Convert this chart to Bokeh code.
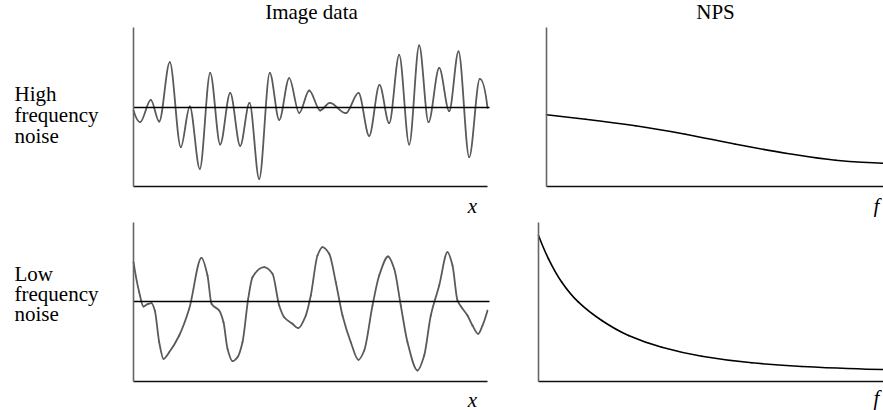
import numpy as np
from bokeh.plotting import figure
from bokeh.layouts import column, row
from bokeh.models import Range1d, FixedTicker, LinearAxis, ColumnDataSource
from bokeh.core.properties import value
from bokeh.embed import file_html
from bokeh.resources import INLINE

# ---------------- data ----------------
# High frequency noise: sample position and amplitude at the turning points
hf_x = [0, 6.7, 17.3, 25.7, 36.3, 47.3, 56.3, 66.3, 76.7, 86.7, 96.7, 106.7, 116,
        125.7, 136.3, 145.7, 155.7, 165.7, 175.7, 186.7, 196.3, 212.3, 225, 235.7,
        246, 255.7, 265.7, 275.7, 285.7, 295, 305.7, 315.7, 325, 335.7, 346.3, 354]
hf_y = [-3.3, -15, 7.3, -14.3, 45, -40, 0.7, -61.7, 34.3, -37.3, 14.3, -38.7, 4.3,
        -71.7, 34.3, -12.7, 29, -5.7, 16.7, -3.3, 4.3, -6, 14.3, -28.7,
        22.3, -16, 52.3, -37.3, 61.7, -15, 39.3, -4, 55.7, -50, 28.3, -0.7]

# Low frequency noise
lf_x = [0, 5.7, 10, 14, 18, 21.3, 25.7, 30, 35.7, 45.7, 55.7, 68, 74, 78, 85.7, 90,
        94, 99, 104, 109, 114.7, 119, 130.7, 139, 145.7, 150.7, 159, 164.7, 172.3,
        177.3, 184, 189, 195.7, 202.3, 209, 217.3, 225, 230.7, 239, 245.7, 254.7,
        260.7, 267.3, 274, 284, 290.7, 297.3, 305.7, 314, 319, 324, 327.3, 334, 339,
        344.7, 349, 354]
lf_y = [39.3, 9.3, -5, -2.7, -1.7, -9, -40.7, -57.3, -50.7, -34, -7.3, 43.7, 26, -2.3,
        -9, -20.7, -47.3, -59.7, -55.7, -40.7, 2.7, 24.3, 34.3, 27.7, -4, -15.7, -22.3,
        -26.7, -14, 6, 46, 54.3, 47.7, 19.3, -14, -40.7, -58.3, -49, -4, 26, 45, 32.7,
        -4, -40.7, -69, -54, -14, 16, 49.3, 36, 1, -4.7, -14, -24, -32.3, -24, -9]

# NPS curves: frequency and power
nps_hf_f = [0, 39, 89, 139, 189, 239, 289, 337]
nps_hf_p = [71.7, 67.3, 60.7, 52.3, 42.3, 33.3, 26.3, 23.3]
nps_lf_f = [0, 10, 23.3, 40, 63.3, 90, 123.3, 163.3, 213.3, 263.3, 345]
nps_lf_p = [146, 122.7, 99.3, 79.3, 61, 46, 34.3, 25.3, 18.7, 15, 12]

col_titles = ["Image data", "NPS"]
row_labels = [["High", "frequency", "noise"], ["Low", "frequency", "noise"]]
axis_labels = ["x", "f"]

FONT = "Liberation Serif"
FS = "21px"


def end_slope(h0, h1, s0, s1):
    d = ((2 * h0 + h1) * s0 - h0 * s1) / (h0 + h1)
    if np.sign(d) != np.sign(s0):
        d = 0.0
    elif np.sign(s0) != np.sign(s1) and abs(d) > abs(3 * s0):
        d = 3 * s0
    return d


def smooth_segments(x, y):
    """Monotone cubic (PCHIP) tangents, expressed as Bezier control points."""
    x = np.asarray(x, float)
    y = np.asarray(y, float)
    h = np.diff(x)
    s = np.diff(y) / h
    n = len(x)
    d = np.zeros(n)
    for k in range(1, n - 1):
        if s[k - 1] * s[k] > 0:
            w1 = 2 * h[k] + h[k - 1]
            w2 = h[k] + 2 * h[k - 1]
            d[k] = (w1 + w2) / (w1 / s[k - 1] + w2 / s[k])
    d[0] = end_slope(h[0], h[1], s[0], s[1])
    d[-1] = end_slope(h[-1], h[-2], s[-1], s[-2])
    return ColumnDataSource(dict(
        x0=x[:-1], y0=y[:-1], x1=x[1:], y1=y[1:],
        cx0=x[:-1] + h / 3, cy0=y[:-1] + d[:-1] * h / 3,
        cx1=x[1:] - h / 3, cy1=y[1:] - d[1:] * h / 3))


def bare_axis(loc, bounds, color, width=1.6):
    ax = LinearAxis(fixed_location=loc, bounds=bounds, ticker=FixedTicker(ticks=[]))
    ax.major_tick_line_color = None
    ax.minor_tick_line_color = None
    ax.major_tick_out = 0
    ax.minor_tick_out = 0
    ax.major_tick_in = 0
    ax.minor_tick_in = 0
    ax.major_label_standoff = 0
    ax.major_label_text_font_size = "0px"
    ax.axis_line_color = color
    ax.axis_line_width = width
    return ax


def make_fig(origin, size, frame, xr, yr, zero_line_end=None):
    """Figure covering a page region; panel data xr/yr placed at page frame box."""
    ox, oy = origin
    w, h = size
    left, right, top, bottom = frame
    sx = (xr[1] - xr[0]) / (right - left)
    sy = (yr[1] - yr[0]) / (bottom - top)
    X = (xr[0] - (left - ox) * sx, xr[1] + (ox + w - right) * sx)
    Y = (yr[0] - (oy + h - bottom) * sy, yr[1] + (top - oy) * sy)
    p = figure(width=w, height=h, x_range=Range1d(*X), y_range=Range1d(*Y),
               toolbar_location=None, output_backend="svg",
               x_axis_type=None, y_axis_type=None,
               min_border_left=0, min_border_right=0,
               min_border_top=0, min_border_bottom=0)
    p.outline_line_color = None
    p.background_fill_color = "white"
    p.border_fill_color = "white"
    p.grid.visible = False
    p.add_layout(bare_axis(xr[0], tuple(yr), "#666666"), "left")
    p.add_layout(bare_axis(yr[0], tuple(xr), "#111111"), "below")
    if zero_line_end is not None:
        p.add_layout(bare_axis(0, (xr[0], zero_line_end), "black", 1.4), "below")
    p._frame = (frame, xr, yr)
    return p


def to_data(p, px, py):
    (left, right, top, bottom), xr, yr = p._frame
    x = xr[0] + (px - left) / (right - left) * (xr[1] - xr[0])
    y = yr[0] + (bottom - py) / (bottom - top) * (yr[1] - yr[0])
    return x, y


def add_texts(p, items, align="left", italic=False):
    """items: list of (page_x, page_center_y, text)."""
    xs, ys, ts = [], [], []
    for px, py, t in items:
        x, y = to_data(p, px, py)
        xs.append(x)
        ys.append(y)
        ts.append(t)
    p.text(x="x", y="y", text="text", source=ColumnDataSource(dict(x=xs, y=ys, text=ts)),
           text_font=value(FONT), text_font_size=value(FS), text_color="black",
           text_align=value(align), text_baseline=value("middle"),
           text_font_style=value("italic" if italic else "normal"))


# ---------------- panels ----------------
H1, H2 = 217, 193
pA = make_fig((0, 0), (520, H1), (133, 487, 27, 186), (0, 354), (-79.3, 79.7),
              zero_line_end=356)
pB = make_fig((520, 0), (363, H1), (546, 883, 27, 186), (0, 337), (0, 159))
pC = make_fig((0, H1), (520, H2), (133, 487, 222, 381), (0, 354), (-80, 79),
              zero_line_end=356)
pD = make_fig((520, H1), (363, H2), (538, 883, 222, 381), (0, 345), (0, 159))

for p, xs, ys in [(pA, hf_x, hf_y), (pC, lf_x, lf_y)]:
    p.bezier(x0="x0", y0="y0", x1="x1", y1="y1", cx0="cx0", cy0="cy0",
             cx1="cx1", cy1="cy1", source=smooth_segments(xs, ys),
             line_color="#5a5a5a", line_width=1.8, line_cap="round")

for p, xs, ys in [(pB, nps_hf_f, nps_hf_p), (pD, nps_lf_f, nps_lf_p)]:
    p.bezier(x0="x0", y0="y0", x1="x1", y1="y1", cx0="cx0", cy0="cy0",
             cx1="cx1", cy1="cy1", source=smooth_segments(xs, ys),
             line_color="black", line_width=1.6, line_cap="round")

# titles
add_texts(pA, [(311, 11, col_titles[0])], align="center")
add_texts(pB, [(715, 11, col_titles[1])], align="center")

# row labels
add_texts(pA, [(14, 93 + 21 * i, t) for i, t in enumerate(row_labels[0])])
add_texts(pC, [(14, 273 + 20 * i, t) for i, t in enumerate(row_labels[1])])

# axis labels
add_texts(pA, [(472, 205, axis_labels[0])], align="center", italic=True)
add_texts(pB, [(876, 205, axis_labels[1])], align="center", italic=True)
add_texts(pC, [(472, 399, axis_labels[0])], align="center", italic=True)
add_texts(pD, [(876, 397, axis_labels[1])], align="center", italic=True)

layout = column(row(pA, pB), row(pC, pD))
open("out.html", "w").write(file_html(layout, INLINE))
